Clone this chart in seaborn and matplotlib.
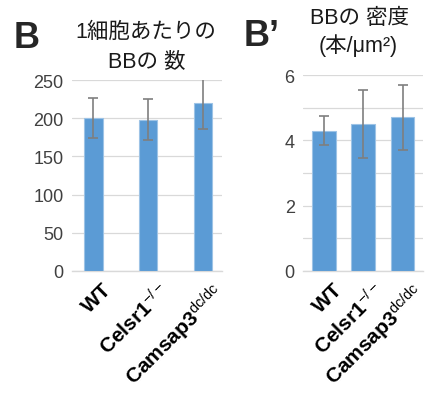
import matplotlib
matplotlib.use("Agg")
import matplotlib.pyplot as plt
import seaborn as sns
import pandas as pd
import numpy as np
from matplotlib.transforms import ScaledTranslation

categories = ["WT", "Celsr1", "Camsap3"]
tick_labels = [r"$\mathbf{WT}$", r"$\mathbf{Celsr1}^{\mathrm{-/-}}$", r"$\mathbf{Camsap3}^{\mathrm{dc/dc}}$"]
count_mean = [200, 198, 220]
count_sd = [26, 27, 34]
density_mean = [4.3, 4.5, 4.7]
density_sd = [0.43, 1.05, 1.0]

sns.set_theme(style="white")
plt.rcParams['font.family'] = ['Liberation Sans', 'Noto Sans CJK JP', 'DejaVu Sans']
plt.rcParams['mathtext.fontset'] = 'custom'
plt.rcParams['mathtext.it'] = 'Liberation Sans:italic'
plt.rcParams['mathtext.rm'] = 'Liberation Sans'
plt.rcParams['mathtext.bf'] = 'Liberation Sans:bold'

W, H = 430, 402
fig = plt.figure(figsize=(W/100, H/100), dpi=100)

bar_color = "#5B9BD5"
edge_color = "#9DC3E6"
grid_color = "#D9D9D9"
err_color = "#7F7F7F"

def px_axes(l, r, t, b):
    return fig.add_axes([l/W, 1 - b/H, (r-l)/W, (b-t)/H])

ax1 = px_axes(72, 222, 81, 272)
ax2 = px_axes(303, 423, 76, 272)

def draw(ax, means, sds, width, ylim, major, minor, xlim):
    df = pd.DataFrame({"cat": categories, "val": means})
    sns.barplot(data=df, x="cat", y="val", ax=ax, color=bar_color, width=width,
                errorbar=None, edgecolor=edge_color, linewidth=0.8, saturation=1, zorder=3)
    ax.errorbar(np.arange(len(means)), means, yerr=sds, fmt="none", ecolor=err_color,
                elinewidth=1.2, capsize=3.5, capthick=1.2, zorder=5)
    ax.set_ylim(*ylim)
    ax.set_xlim(*xlim)
    ax.set_yticks(major)
    ax.set_yticks(minor, minor=True)
    ax.grid(axis="y", which="both", color=grid_color, linewidth=0.9, zorder=0)
    ax.set_axisbelow(True)
    for s in ["top", "right", "left"]:
        ax.spines[s].set_visible(False)
    ax.spines["bottom"].set_color(grid_color)
    ax.spines["bottom"].set_linewidth(1.0)
    ax.tick_params(axis="both", which="both", length=0)
    ax.tick_params(axis="y", labelsize=13, labelcolor="#404040", pad=6)
    ax.set_xlabel("")
    ax.set_ylabel("")
    ax.set_xticks(range(len(categories)))
    ax.set_xticklabels(tick_labels, rotation=45, ha="right", va="top",
                       rotation_mode="anchor", fontsize=15, color="black")
    for lab in ax.get_xticklabels():
        lab.set_transform(lab.get_transform() + ScaledTranslation(9/100, -3/100, fig.dpi_scale_trans))

draw(ax1, count_mean, count_sd, 0.34, (0, 250), [0, 50, 100, 150, 200, 250], [], (-0.39, 2.35))
draw(ax2, density_mean, density_sd, 0.6, (0, 6), [0, 2, 4, 6], [1, 3, 5], (-0.53, 2.52))

def ftext(x, y, s, **kw):
    fig.text(x/W, 1 - y/H, s, **kw)

ftext(27, 38, "B", fontsize=26, fontweight="bold", ha="center", va="center")
ftext(262, 36, "B\u2019", fontsize=26, fontweight="bold", ha="center", va="center")
tc = "#1a1a1a"
ftext(146, 32, "1細胞あたりの", fontsize=15.5, ha="center", va="center", color=tc)
ftext(147, 62, "BBの 数", fontsize=15.5, ha="center", va="center", color=tc)
ftext(360, 19, "BBの 密度", fontsize=15.5, ha="center", va="center", color=tc)
ftext(358, 46, "(本/μm²)", fontsize=15.5, ha="center", va="center", color=tc)

fig.savefig("out.png", dpi=100)
